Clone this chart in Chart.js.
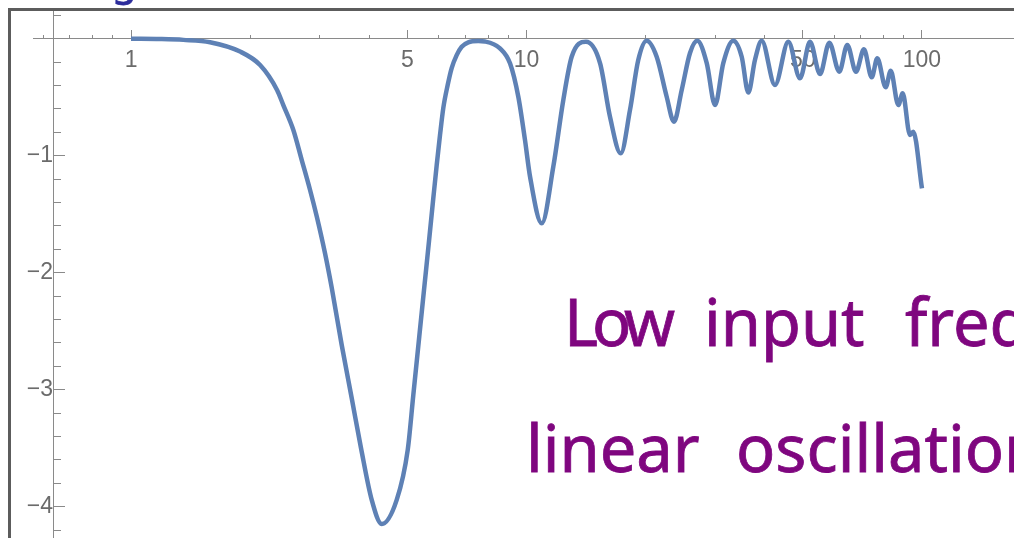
<!DOCTYPE html>
<html>
<head>
<meta charset="utf-8">
<script src="https://cdn.jsdelivr.net/npm/chart.js@4.4.1/dist/chart.umd.min.js"></script>
<style>
  html, body { margin: 0; padding: 0; background: #fff; }
  #page { position: relative; width: 1014px; height: 538px; overflow: hidden; background: #fff; }
  #plot { position: absolute; left: 0; top: 0; }
  #frame { position: absolute; left: 8px; top: 8px; width: 1100px; height: 600px;
           border-left: 3px solid #5c5c5c; border-top: 3px solid #5c5c5c; }
  .ink { position: absolute; font-family: "Noto Sans", sans-serif; font-size: 65px;
         line-height: 1; color: #7f067f; white-space: nowrap;
         -webkit-text-stroke: 0.8px #7f067f; }
  .ink.blue { color: #2d2d9c; font-size: 40px; -webkit-text-stroke: 0.8px #2d2d9c; }
</style>
</head>
<body>
<div id="page">
  <canvas id="plot" width="1014" height="538"></canvas>
  <div id="frame"></div>
  <div class="ink blue" style="left:112px; top:-40px">g</div>
  <div class="ink" style="left:564px; top:289px; letter-spacing:-6px">Low</div>
  <div class="ink" style="left:704px; top:289px">input</div>
  <div class="ink" style="left:905px; top:289px">frequency</div>
  <div class="ink" style="left:526px; top:415px">linear</div>
  <div class="ink" style="left:736px; top:415px">oscillation</div>
</div>
<script>
// response curve, log-frequency axis
const freq = [
  1.000, 1.184, 1.356, 1.584, 1.887, 2.120, 2.340, 2.427, 2.573, 2.702,
  2.836, 2.949, 3.094, 3.218, 3.410, 3.614, 3.815, 4.061, 4.305, 4.697,
  5.008, 5.174, 5.358, 5.506, 5.669, 5.813, 5.929, 6.044, 6.161, 6.320,
  6.469, 6.660, 6.858, 7.126, 7.553, 7.856, 8.570, 9.085, 9.535, 9.913,
  10.21, 10.93, 11.69, 12.39, 13.01, 14.14, 15.35, 16.26, 17.31, 18.27,
  19.17, 20.13, 21.34, 22.62, 23.60, 24.69, 25.91, 27.03, 28.56, 29.98,
  31.45, 33.34, 35.01, 36.38, 37.83, 39.33, 42.50, 45.92, 49.17, 52.12,
  55.23, 58.31, 61.80, 64.74, 68.11, 71.34, 74.63, 77.10, 80.98, 83.37,
  87.13, 89.39, 93.26, 95.06, 100.0
];
const response = [
  0.000, -0.003, -0.010, -0.030, -0.110, -0.225, -0.438, -0.567, -0.780, -1.037,
  -1.293, -1.520, -1.834, -2.130, -2.618, -3.071, -3.498, -3.942, -4.148, -3.942,
  -3.515, -3.045, -2.541, -2.148, -1.729, -1.362, -1.079, -0.823, -0.592, -0.396,
  -0.251, -0.140, -0.068, -0.031, -0.020, -0.024, -0.082, -0.210, -0.496, -0.866,
  -1.180, -1.578, -1.094, -0.524, -0.154, -0.026, -0.210, -0.667, -0.980, -0.609,
  -0.182, -0.017, -0.154, -0.496, -0.709, -0.438, -0.122, -0.017, -0.208, -0.567,
  -0.208, -0.017, -0.154, -0.460, -0.180, -0.017, -0.396, -0.026, -0.338, -0.026,
  -0.302, -0.034, -0.282, -0.054, -0.282, -0.091, -0.330, -0.168, -0.415, -0.274,
  -0.567, -0.467, -0.823, -0.795, -1.279
];

const xMajorTicks = [1, 5, 10, 50, 100];
const xMinorTicks = [0.6, 0.7, 0.8, 0.9, 2, 3, 4, 6, 7, 8, 9, 20, 30, 40, 60, 70, 80, 90];
const yMajorTicks = [-4, -3, -2, -1, 0];
const yMinorTicks = [-4.2, -3.8, -3.6, -3.4, -3.2, -2.8, -2.6, -2.4, -2.2, -1.8, -1.6,
                     -1.4, -1.2, -0.8, -0.6, -0.4, -0.2, 0.2];

const xMin = 0.5651, xMax = 170.9;
const yMin = -4.2675, yMax = 0.2368;
const yAxisAt = 0.635;

const axisGrey = '#8a8a8a';
const labelColor = '#6b6b6b';
const labelFont = { family: '"Liberation Sans", Arial, sans-serif', size: 23 };

// positioned axes should not push the plot area around
const noPad = s => { s.paddingLeft = s.paddingRight = s.paddingTop = s.paddingBottom = 0; };
const useTicks = list => s => { s.ticks = list.map(v => ({ value: v })); };

new Chart(document.getElementById('plot'), {
  type: 'scatter',
  data: {
    datasets: [{
      data: freq.map((f, i) => ({ x: f, y: response[i] })),
      showLine: true,
      fill: false,
      borderColor: '#5e81b5',
      borderWidth: 4.5,
      pointRadius: 0,
      cubicInterpolationMode: 'monotone',
      xAxisID: 'x',
      yAxisID: 'y'
    }]
  },
  options: {
    responsive: false,
    animation: false,
    events: [],
    layout: { padding: { left: 33, top: 11, right: 0, bottom: 0 } },
    plugins: { legend: { display: false }, tooltip: { enabled: false } },
    scales: {
      x: {
        type: 'logarithmic', bounds: 'data', min: xMin, max: xMax,
        position: { y: 0 },
        afterBuildTicks: useTicks(xMajorTicks),
        afterFit: noPad,
        grid: { drawOnChartArea: false, tickLength: -9, tickColor: axisGrey, tickWidth: 1 },
        border: { color: axisGrey, width: 1 },
        ticks: {
          autoSkip: false, maxRotation: 0, padding: 17,
          font: labelFont, color: labelColor,
          callback: v => String(v)
        }
      },
      x2: {
        type: 'logarithmic', axis: 'x', bounds: 'data', min: xMin, max: xMax,
        position: { y: 0 },
        afterBuildTicks: useTicks(xMinorTicks),
        afterFit: noPad,
        grid: { drawOnChartArea: false, tickLength: -4, tickColor: axisGrey, tickWidth: 1 },
        border: { display: false },
        ticks: { display: false }
      },
      y: {
        type: 'linear', bounds: 'data', min: yMin, max: yMax,
        position: { x: yAxisAt },
        afterBuildTicks: useTicks(yMajorTicks),
        afterFit: noPad,
        grid: { drawOnChartArea: false, tickLength: -12, tickColor: axisGrey, tickWidth: 1 },
        border: { color: axisGrey, width: 1 },
        ticks: {
          padding: 23, font: labelFont, color: labelColor,
          callback: v => (v === 0 ? '' : '\u2212' + Math.abs(v))
        }
      },
      y2: {
        type: 'linear', axis: 'y', bounds: 'data', min: yMin, max: yMax,
        position: { x: yAxisAt },
        afterBuildTicks: useTicks(yMinorTicks),
        afterFit: noPad,
        grid: { drawOnChartArea: false, tickLength: -8, tickColor: axisGrey, tickWidth: 1 },
        border: { display: false },
        ticks: { display: false }
      }
    }
  }
});
</script>
</body>
</html>
